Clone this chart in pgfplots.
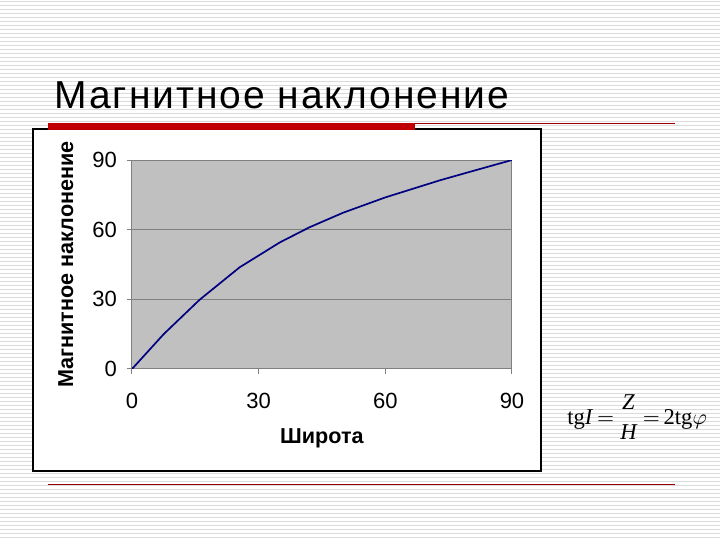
\documentclass[border=0pt]{standalone}
\usepackage{amsmath}
\usepackage{fontspec}
\setmainfont{Liberation Sans}
\newfontfamily\serif{Liberation Serif}
\usepackage{pgfplots}
\pgfplotsset{compat=1.18}
\definecolor{slidered}{RGB}{192,0,0}
\definecolor{navy}{RGB}{0,0,128}
\definecolor{plotgray}{RGB}{192,192,192}
\definecolor{gridgray}{RGB}{128,128,128}
\begin{document}
\begin{tikzpicture}[x=0.5pt,y=-0.5pt]
\path[use as bounding box] (0,0) rectangle (720,540);
\fill[white] (0,0) rectangle (720,540);
\foreach \i in {2,6,...,538} \draw[black!14, line width=0.5pt] (0,\i) -- (720,\i);
% title
\node[anchor=base west, inner sep=0pt, font=\fontsize{19.5}{22}\selectfont\addfontfeatures{LetterSpace=5}] at (54,109) {Магнитное наклонение};
% chart box
\draw[black, line width=0.8pt, fill=white] (33,129) rectangle (541,471);
% red rules
\fill[slidered] (48,123) rectangle (415,130);
\draw[slidered!80!black, line width=0.5pt] (415,124) -- (675,124);
\draw[slidered!80!black, line width=0.5pt] (48,485) -- (675,485);
% formula
\node[anchor=west, inner sep=0pt, font=\fontsize{11.3}{13}\selectfont\serif] at (567,417)
  {tg\textit{I}\,$=$\,$\genfrac{}{}{0pt}{0}{\textit{Z}}{\textit{H}}$\,$=$\,2tg$\varphi$};
\begin{axis}[
    at={(66pt,-184.5pt)}, anchor=south west,
    scale only axis,
    width=190pt, height=104.5pt,
    xmin=0, xmax=90, ymin=0, ymax=90,
    xtick={0,30,60,90}, ytick={0,30,60,90},
    axis background/.style={fill=plotgray},
    axis line style={gridgray, line width=0.5pt},
    ymajorgrids, grid style={gridgray, line width=0.5pt},
    tick align=outside, xtick pos=left, ytick pos=left,
    major tick length=2.5pt,
    tick style={gridgray, line width=0.5pt},
    /pgf/number format/assume math mode=true,
    tick label style={font=\fontsize{11}{13}\selectfont},
    xticklabel style={yshift=-6pt},
    yticklabel style={xshift=-1.5pt},
    xlabel={\textbf{Широта}},
    ylabel={\textbf{Магнитное наклонение}},
    label style={font=\fontsize{10.8}{12}\selectfont},
    xlabel style={at={(axis description cs:0.5,-0.33)}, anchor=center},
    ylabel style={at={(axis description cs:-0.174,0.5)}, anchor=center},
]
\addplot[navy, line width=0.85pt] coordinates {
(0,0) (7.5,15) (16,29.8) (25.5,43.8) (35,54.5) (42,61) (50,67.3) (60,73.9) (73,81.3) (80,84.9) (90,90)
};
\end{axis}
\end{tikzpicture}
\end{document}
